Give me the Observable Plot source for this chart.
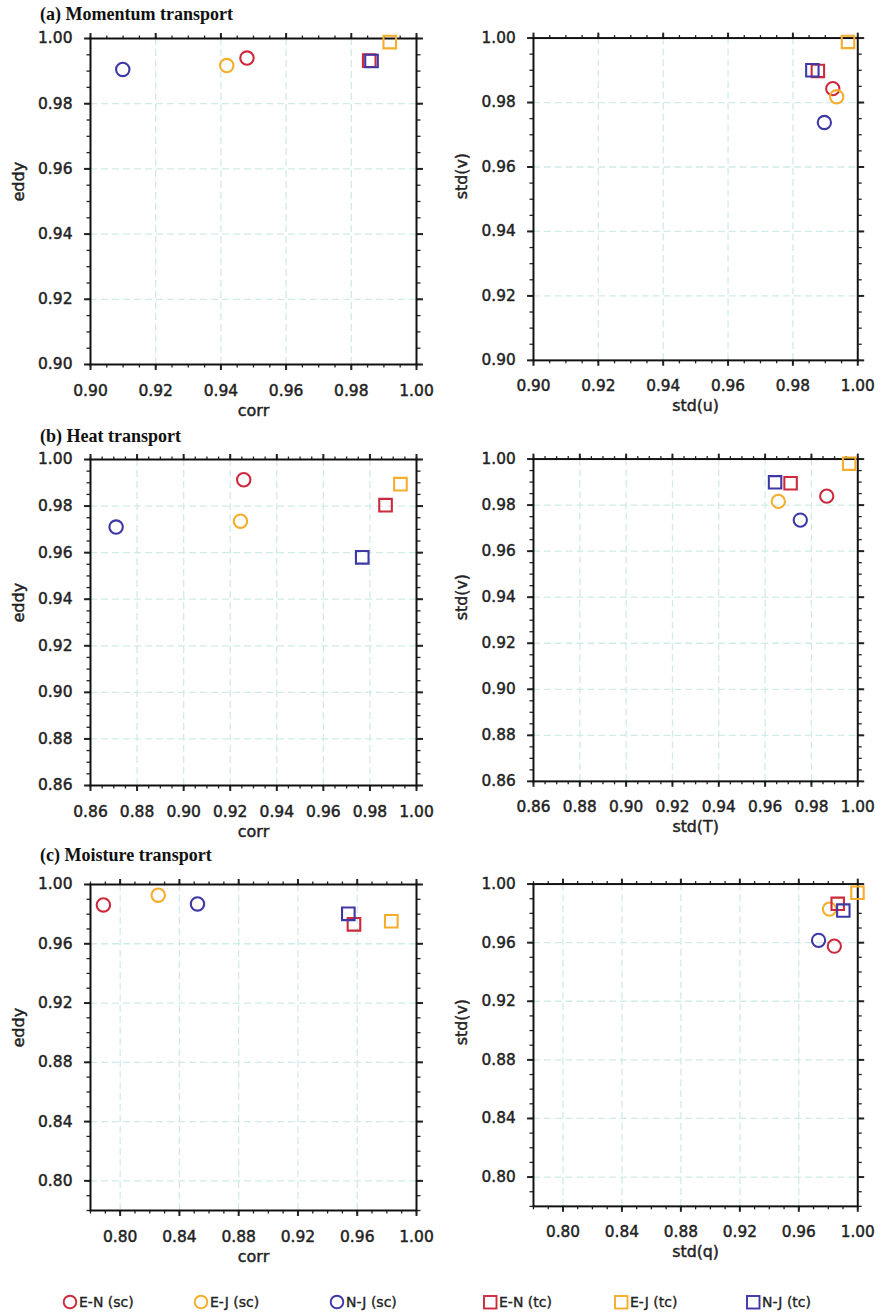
<!DOCTYPE html>
<html>
<head>
<meta charset="utf-8">
<script src="https://cdn.jsdelivr.net/npm/d3@7"></script>
<script src="https://cdn.jsdelivr.net/npm/@observablehq/plot@0.6"></script>
<style>
  html, body { margin: 0; padding: 0; background: #fff; }
  #root { position: relative; width: 881px; height: 1313px; background: #fff; overflow: hidden; }
  .title { position: absolute; font-family: "Liberation Serif", "Times New Roman", serif; font-weight: bold; font-size: 18px; color: #111; white-space: nowrap; line-height: 1; }
  .panel { position: absolute; }
  .panel svg text { stroke: #222; stroke-width: 0.45px; }
  .leg { position: absolute; font-family: "DejaVu Sans", sans-serif; font-size: 14px; color: #222; white-space: nowrap; display: flex; align-items: center; -webkit-text-stroke: 0.35px #222; }
  .leg svg { margin-right: 1px; }
</style>
</head>
<body>
<div id="root"></div>
<script>
// ---- series definitions ----
const seriesNames   = ["E-N (sc)", "E-J (sc)", "N-J (sc)", "E-N (tc)", "E-J (tc)", "N-J (tc)"];
const seriesColors  = ["#cc2a3c", "#f5ad2c", "#3d38a6", "#cc2a3c", "#f5ad2c", "#3d38a6"];
const seriesSymbols = ["circle", "circle", "circle", "square", "square", "square"];

// ---- (a) Momentum transport ----
const aCorr = [0.948, 0.9418, 0.9099, 0.9855, 0.9918, 0.9862];
const aEddy = [0.994, 0.9917, 0.9905, 0.9932, 0.9989, 0.9931];
const aStdU = [0.9923, 0.9935, 0.9897, 0.9877, 0.997, 0.986];
const aStdV = [0.9843, 0.9818, 0.9738, 0.9898, 0.9988, 0.990];
const aTicks = [0.90, 0.92, 0.94, 0.96, 0.98, 1.00];

// ---- (b) Heat transport ----
const bCorr = [0.9258, 0.9244, 0.8710, 0.9867, 0.9931, 0.9767];
const bEddy = [0.9913, 0.9735, 0.9710, 0.9804, 0.9894, 0.958];
const bStdT = [0.9866, 0.9657, 0.9752, 0.971, 0.9963, 0.9643];
const bStdV = [0.9839, 0.9816, 0.9735, 0.9895, 0.998, 0.9899];
const bTicks = [0.86, 0.88, 0.90, 0.92, 0.94, 0.96, 0.98, 1.00];

// ---- (c) Moisture transport ----
const cCorr = [0.7887, 0.8257, 0.8522, 0.9578, 0.983, 0.954];
const cEddy = [0.9862, 0.9928, 0.9869, 0.9731, 0.9752, 0.9802];
const cStdQ = [0.9841, 0.9808, 0.9734, 0.9864, 0.9998, 0.9902];
const cStdV = [0.9576, 0.9829, 0.9616, 0.9865, 0.9941, 0.9819];
const cTicks = [0.80, 0.84, 0.88, 0.92, 0.96, 1.00];

const panelTitles = ["(a) Momentum transport", "(b) Heat transport", "(c) Moisture transport"];

const fmt = d3.format(".2f");
const gridColor = "#d0ebe8";

function rows(xs, ys) {
  return seriesNames.map((name, i) => ({name, x: xs[i], y: ys[i], color: seriesColors[i], symbol: seriesSymbols[i]}));
}

function minorTicks(domain, step) {
  const out = [];
  const n = Math.round((domain[1] - domain[0]) / step);
  for (let k = 0; k <= n; k++) out.push(+(domain[0] + k * step).toFixed(4));
  return out;
}

function panel({data, domain, majors, minorStep, xLabel, yLabel, frameW, left, top}) {
  const mL = 90, mR = 24, mT = 38, mB = 58;
  const minors = minorTicks(domain, minorStep);
  const interior = majors.filter(t => t > domain[0] + 1e-9 && t < domain[1] - 1e-9);
  const noText = () => "";
  const chart = Plot.plot({
    width: mL + frameW + mR,
    height: mT + 326 + mB,
    marginLeft: mL, marginRight: mR, marginTop: mT, marginBottom: mB,
    x: {domain},
    y: {domain},
    color: {type: "identity"},
    symbol: {type: "identity"},
    style: {fontFamily: "DejaVu Sans, sans-serif", fontSize: "15.5px", color: "#222", background: "transparent", overflow: "visible"},
    marks: [
      Plot.gridX(interior, {stroke: gridColor, strokeOpacity: 1, strokeWidth: 1.3, strokeDasharray: "7,4"}),
      Plot.gridY(interior, {stroke: gridColor, strokeOpacity: 1, strokeWidth: 1.3, strokeDasharray: "7,4"}),
      Plot.axisX(minors, {anchor: "bottom", tickSize: 3.5, tickFormat: noText, label: null, strokeWidth: 1.3}),
      Plot.axisX(minors, {anchor: "top", tickSize: 3.5, tickFormat: noText, label: null, strokeWidth: 1.3}),
      Plot.axisY(minors, {anchor: "left", tickSize: 3.5, tickFormat: noText, label: null, strokeWidth: 1.3}),
      Plot.axisY(minors, {anchor: "right", tickSize: 3.5, tickFormat: noText, label: null, strokeWidth: 1.3}),
      Plot.axisX(majors, {anchor: "bottom", tickSize: 6, tickPadding: 14, tickFormat: fmt, label: null, strokeWidth: 2, fontSize: 15.5}),
      Plot.axisX(majors, {anchor: "top", tickSize: 6, tickFormat: noText, label: null, strokeWidth: 2}),
      Plot.axisY(majors, {anchor: "left", tickSize: 6, tickPadding: 12, tickFormat: fmt, label: null, strokeWidth: 2, fontSize: 15.5}),
      Plot.axisY(majors, {anchor: "right", tickSize: 6, tickFormat: noText, label: null, strokeWidth: 2}),
      Plot.frame({stroke: "#111", strokeWidth: 2}),
      Plot.dot(data.filter(d => d.symbol === "circle"), {x: "x", y: "y", stroke: "color", symbol: "symbol", r: 6.7, strokeWidth: 2.1, fill: "none"}),
      Plot.dot(data.filter(d => d.symbol === "square"), {x: "x", y: "y", stroke: "color", symbol: "symbol", r: 7.1, strokeWidth: 2.1, fill: "none"}),
      Plot.text([xLabel], {text: d => d, frameAnchor: "bottom", dy: 51, fontSize: 16, fill: "#222"}),
      Plot.text([yLabel], {text: d => d, frameAnchor: "left", dx: -72, rotate: -90, fontSize: 16, fill: "#222"})
    ]
  });
  const wrap = document.createElement("div");
  wrap.className = "panel";
  wrap.style.left = left + "px";
  wrap.style.top = top + "px";
  wrap.appendChild(chart);
  return wrap;
}

const root = document.getElementById("root");
const rowTops = [0, 421, 846];
const rightLeft = 444;

const specs = [
  {data: rows(aCorr, aEddy), domain: [0.90, 1.00], majors: aTicks, minorStep: 0.005, xLabel: "corr", yLabel: "eddy", frameW: 326, left: 0, top: rowTops[0]},
  {data: rows(aStdU, aStdV), domain: [0.90, 1.00], majors: aTicks, minorStep: 0.005, xLabel: "std(u)", yLabel: "std(v)", frameW: 328, left: rightLeft, top: rowTops[0]},
  {data: rows(bCorr, bEddy), domain: [0.86, 1.00], majors: bTicks, minorStep: 0.005, xLabel: "corr", yLabel: "eddy", frameW: 326, left: 0, top: rowTops[1]},
  {data: rows(bStdT, bStdV), domain: [0.86, 1.00], majors: bTicks, minorStep: 0.005, xLabel: "std(T)", yLabel: "std(v)", frameW: 328, left: rightLeft, top: rowTops[1]},
  {data: rows(cCorr, cEddy), domain: [0.78, 1.00], majors: cTicks, minorStep: 0.01, xLabel: "corr", yLabel: "eddy", frameW: 326, left: 0, top: rowTops[2]},
  {data: rows(cStdQ, cStdV), domain: [0.78, 1.00], majors: cTicks, minorStep: 0.01, xLabel: "std(q)", yLabel: "std(v)", frameW: 328, left: rightLeft, top: rowTops[2]}
];
specs.forEach(s => root.appendChild(panel(s)));

// titles
const titleTops = [5, 427, 846];
panelTitles.forEach((t, i) => {
  const el = document.createElement("div");
  el.className = "title";
  el.textContent = t;
  el.style.left = "40px";
  el.style.top = titleTops[i] + "px";
  root.appendChild(el);
});

// legend
const legendX = [62, 193, 329, 482, 613, 745];
seriesNames.forEach((name, i) => {
  const el = document.createElement("div");
  el.className = "leg";
  el.style.left = legendX[i] + "px";
  el.style.top = "1293px";
  const ns = "http://www.w3.org/2000/svg";
  const svg = document.createElementNS(ns, "svg");
  svg.setAttribute("width", 16); svg.setAttribute("height", 18);
  let shape;
  if (seriesSymbols[i] === "circle") {
    shape = document.createElementNS(ns, "circle");
    shape.setAttribute("cx", 8); shape.setAttribute("cy", 9); shape.setAttribute("r", 6.3);
  } else {
    shape = document.createElementNS(ns, "rect");
    shape.setAttribute("x", 2); shape.setAttribute("y", 3); shape.setAttribute("width", 12.5); shape.setAttribute("height", 12.5);
  }
  shape.setAttribute("fill", "none");
  shape.setAttribute("stroke", seriesColors[i]);
  shape.setAttribute("stroke-width", 1.9);
  svg.appendChild(shape);
  el.appendChild(svg);
  const sp = document.createElement("span");
  sp.textContent = name;
  el.appendChild(sp);
  root.appendChild(el);
});
</script>
</body>
</html>
